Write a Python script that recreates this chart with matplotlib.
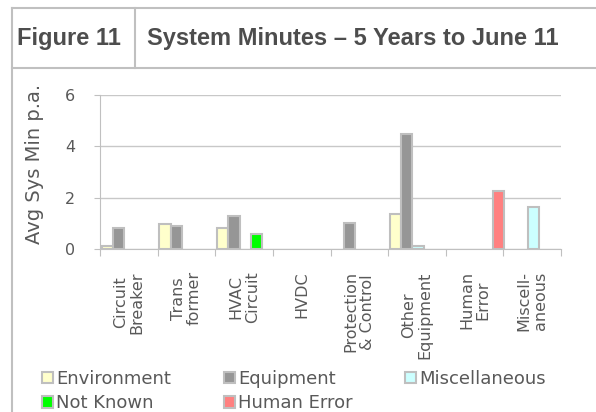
import numpy as np
import matplotlib
matplotlib.use("Agg")
import matplotlib.pyplot as plt
from matplotlib.lines import Line2D
from matplotlib.patches import Patch

categories = ["Circuit\nBreaker", "Trans\nformer", "HVAC\nCircuit", "HVDC",
              "Protection\n& Control", "Other\nEquipment", "Human\nError", "Miscell-\naneous"]
series = ["Environment", "Equipment", "Miscellaneous", "Not Known", "Human Error"]
colors = ["#ffffcc", "#969696", "#ccffff", "#00ff00", "#ff8080"]

environment = [0.1, 0.97, 0.83, 0, 0, 1.36, 0, 0]
equipment = [0.83, 0.9, 1.3, 0, 1.03, 4.5, 0, 0]
miscellaneous = [0, 0, 0, 0, 0, 0.13, 0, 1.65]
not_known = [0, 0, 0.58, 0, 0, 0, 0, 0]
human_error = [0, 0, 0, 0, 0, 0, 2.26, 0]
values = [environment, equipment, miscellaneous, not_known, human_error]

grey_txt = "#595959"
line_c = "#c0c0c0"
plt.rcParams["font.family"] = "DejaVu Sans"

fig = plt.figure(figsize=(5.96, 4.12), dpi=100)
ax = fig.add_axes([100/596, 1-249/412, 461/596, 154/412])

x = np.arange(len(categories))
w = 0.196
for i, (name, vals) in enumerate(zip(series, values)):
    v = np.array(vals, dtype=float)
    m = v > 0
    ax.bar(x[m] + 0.03 + i*w, v[m], width=w, align="edge", color=colors[i],
           edgecolor="#bfbfbf", linewidth=1.5, zorder=3)

ax.set_xlim(0, len(categories))
ax.set_ylim(0, 6)
ax.set_yticks([0, 2, 4, 6])
ax.yaxis.grid(True, color="#c8c8c8", linewidth=1)
ax.set_axisbelow(True)
ax.set_xticks(np.arange(len(categories)+1))
ax.set_xticklabels([])
ax.set_xticks(x + 0.5, minor=True)
ax.set_xticklabels(categories, minor=True, rotation=90, va="top", ha="center",
                   multialignment="center", fontsize=11.5, color=grey_txt, linespacing=1.1)
ax.tick_params(axis="x", which="minor", length=0, pad=16)
ax.tick_params(axis="x", which="major", length=5, color="#c0c0c0")
ax.tick_params(axis="y", length=4, color="#c0c0c0", labelsize=11.5, labelcolor=grey_txt, pad=14)
for s in ["top", "right"]:
    ax.spines[s].set_visible(False)
for s in ["left", "bottom"]:
    ax.spines[s].set_color("#c0c0c0")
ax.set_ylabel("Avg Sys Min p.a.", fontsize=14, color=grey_txt)
ax.yaxis.set_label_coords(-0.122, 0.55)

# legend filled column by column, so reorder to read row-wise
order = [0, 3, 1, 4, 2]
handles = [Patch(facecolor=colors[k], edgecolor="#bfbfbf", linewidth=1.5) for k in order]
fig.legend(handles, [series[k] for k in order], loc="upper left",
           bbox_to_anchor=(33/596, 1-361/412), ncol=3, frameon=False, fontsize=13,
           handlelength=0.6, handleheight=0.6, handletextpad=0.2, columnspacing=2.9,
           labelspacing=0.35, borderpad=0, labelcolor=grey_txt)

# frame around the figure heading
def fl(x0, y0, x1, y1):
    fig.add_artist(Line2D([x0/596, x1/596], [1-y0/412, 1-y1/412], color=line_c, lw=1.5))
fl(12, 8, 596, 8)
fl(12, 68, 596, 68)
fl(12, 8, 12, 412)
fl(135, 8, 135, 68)
fig.text(17/596, 1-39/412, "Figure 11", fontsize=17, fontweight="bold", color="#4d4d4d",
         va="center", family="Liberation Sans")
fig.text(147/596, 1-39/412, "System Minutes \u2013 5 Years to June 11", fontsize=17,
         fontweight="bold", color="#4d4d4d", va="center", family="Liberation Sans")

fig.savefig("out.png", dpi=100)
